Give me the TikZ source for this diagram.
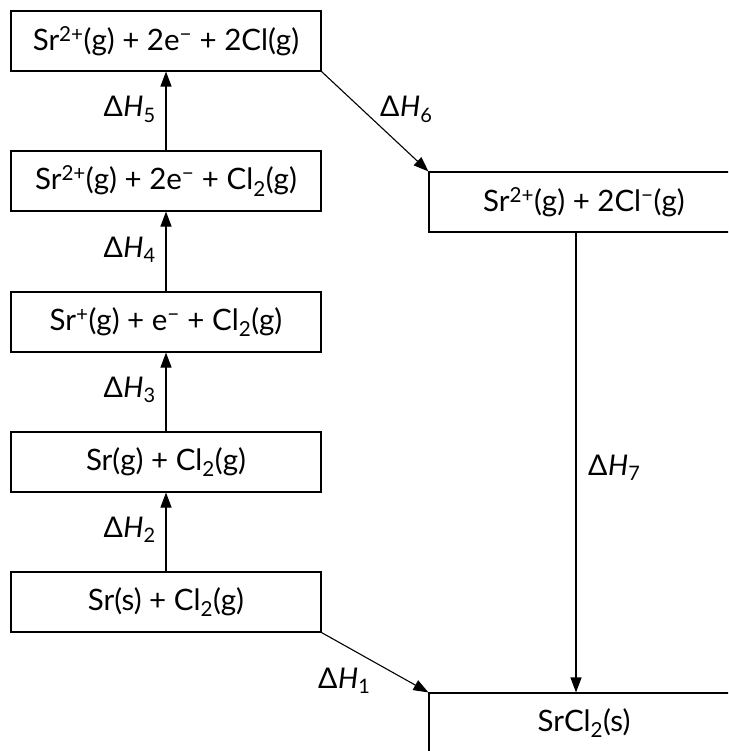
\documentclass[tikz,border=0pt]{standalone}
\usepackage{fontspec}
\setmainfont{Lato}
\usetikzlibrary{arrows.meta}
\newcommand{\dH}[1]{Δ\kern0.5pt\textit{H}\textsubscript{#1}}
\newcommand{\mns}{\textsuperscript{−}}
\begin{document}
\begin{tikzpicture}[x=1pt,y=-1pt,
  box/.style={draw, line width=1.1pt, minimum width=310pt, minimum height=60pt, inner sep=0pt, font=\fontsize{29.5}{35}\selectfont},
  arr/.style={line width=1.1pt, -{Triangle[length=15pt,width=11pt]}},
  lbl/.style={font=\fontsize{28.5}{34}\selectfont, inner sep=0pt}]
\useasboundingbox (0,0) rectangle (728,751);
\clip (0,0) rectangle (728,751);
\node[box] (b5) at (166,41) {Sr\textsuperscript{2+}(g) + 2e\mns{} + 2Cl(g)};
\node[box] (b4) at (166,181) {Sr\textsuperscript{2+}(g) + 2e\mns{} + Cl\textsubscript{2}(g)};
\node[box] (b3) at (166,322) {Sr\textsuperscript{+}(g) + e\mns{} + Cl\textsubscript{2}(g)};
\node[box] (b2) at (166,462) {Sr(g) + Cl\textsubscript{2}(g)};
\node[box] (b1) at (166,602) {Sr(s) + Cl\textsubscript{2}(g)};
\node[box] (a) at (584,202) {Sr\textsuperscript{2+}(g) + 2Cl\mns(g)};
\node[box] (s) at (584,723) {SrCl\textsubscript{2}(s)};
\draw[arr] (b1.north) -- (b2.south);
\draw[arr] (b2.north) -- (b3.south);
\draw[arr] (b3.north) -- (b4.south);
\draw[arr] (b4.north) -- (b5.south);
\draw[arr] (b5.south east) -- (a.north west);
\draw[arr] ([xshift=-8pt]a.south) -- ([xshift=-8pt]s.north);
\draw[arr] (b1.south east) -- (s.north west);
\node[lbl, anchor=base east] (h5) at (156,117) {\dH{5}};
\node[lbl, anchor=base east] (h4) at (156,257) {\dH{4}};
\node[lbl, anchor=base east] (h3) at (156,397) {\dH{3}};
\node[lbl, anchor=base east] (h2) at (156,537) {\dH{2}};
\node[lbl, anchor=base west] (h6) at (380,117) {\dH{6}};
\node[lbl, anchor=base west] (h7) at (588,475) {\dH{7}};
\node[lbl, anchor=base west] (h1) at (318,688) {\dH{1}};
\end{tikzpicture}
\end{document}
